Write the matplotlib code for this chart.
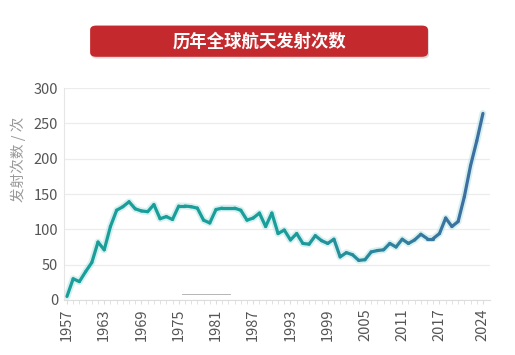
import numpy as np
import matplotlib
matplotlib.use('Agg')
import matplotlib.pyplot as plt
from matplotlib.collections import LineCollection
from matplotlib.colors import LinearSegmentedColormap
from matplotlib.patches import FancyBboxPatch

plt.rcParams['font.family'] = ['Noto Sans CJK SC', 'DejaVu Sans']

# 数据：历年全球航天发射次数
years = list(range(1957, 2025))
launches = [5, 30, 26, 40, 53, 82, 71, 104, 127, 132,
            139, 129, 126, 125, 135, 115, 118, 114, 133, 133,
            132, 130, 113, 109, 128, 130, 130, 130, 127, 113,
            116, 123, 104, 123, 94, 99, 85, 94, 80, 79,
            91, 84, 80, 86, 61, 67, 64, 56, 57, 68,
            70, 71, 80, 75, 86, 80, 85, 93, 87, 87,
            94, 116, 104, 111, 146, 190, 225, 264]
tick_years = [1957, 1963, 1969, 1975, 1981, 1987, 1993, 1999, 2005, 2011, 2017, 2024]
title = '历年全球航天发射次数'
ylabel = '发射次数 / 次'

fig = plt.figure(figsize=(5.15, 3.55), dpi=100)
ax = fig.add_axes([0.124, 0.155, 0.827, 0.597])

x = np.array(years, dtype=float)
y = np.array(launches, dtype=float)

# 发光底线
ax.plot(x, y, color='#a6dede', lw=5, alpha=0.45, solid_capstyle='round', zorder=2)

# 按年份渐变的折线（青色 -> 蓝色）
pts = np.column_stack([x, y]).reshape(-1, 1, 2)
segs = np.concatenate([pts[:-1], pts[1:]], axis=1)
cmap = LinearSegmentedColormap.from_list('tb', [(0, '#1a9e9a'), (0.55, '#1a9e9a'), (1, '#3d6fa0')])
norm = plt.Normalize(1957, 2021)
lc = LineCollection(segs, cmap=cmap, norm=norm, linewidths=2.3, capstyle='round', joinstyle='round', zorder=3)
lc.set_array((x[:-1] + x[1:]) / 2)
ax.add_collection(lc)

# 底部的小灰线
ax.plot([0.277, 0.39], [0.028, 0.028], transform=ax.transAxes, color='#aaaaaa', lw=0.6, zorder=1)

ax.set_xlim(1956.5, 2025.1)
ax.set_ylim(0, 300)
ax.set_yticks(range(0, 301, 50))
ax.set_xticks(tick_years)
ax.set_xticklabels([str(t) for t in tick_years], rotation=90)
ax.set_xticks(years, minor=True)
ax.tick_params(axis='y', length=0, labelsize=10.5, labelcolor='#555555', pad=4)
ax.tick_params(axis='x', which='major', length=3, color='#dddddd', labelsize=10.5, labelcolor='#555555', pad=3)
ax.tick_params(axis='x', which='minor', length=3, color='#dddddd')
ax.grid(axis='y', color='#ececec', lw=0.9)
ax.set_axisbelow(True)
for side in ['top', 'right']:
    ax.spines[side].set_visible(False)
ax.spines['left'].set_color('#e6e6e6')
ax.spines['bottom'].set_color('#dddddd')

fig.text(0.035, 0.55, ylabel, rotation=90, ha='center', va='center', fontsize=10.5, color='#999999')

# 标题红色横幅
shadow = FancyBboxPatch((0.177, 0.835), 0.656, 0.088, boxstyle='round,pad=0,rounding_size=0.012',
                        transform=fig.transFigure, facecolor='#999999', edgecolor='none', alpha=0.35)
banner = FancyBboxPatch((0.175, 0.84), 0.656, 0.088, boxstyle='round,pad=0,rounding_size=0.012',
                        transform=fig.transFigure, facecolor='#c4292d', edgecolor='none')
fig.patches.extend([shadow, banner])
fig.text(0.503, 0.884, title, ha='center', va='center', fontsize=12.5, fontweight='bold', color='white')

fig.savefig('out.png', dpi=100, facecolor='white')
